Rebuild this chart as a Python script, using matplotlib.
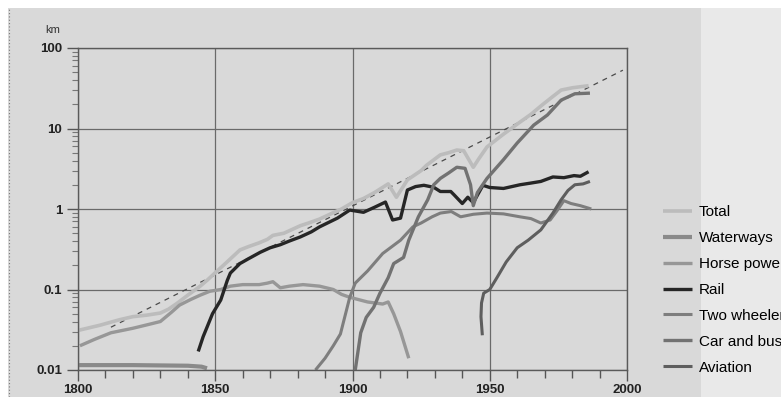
import matplotlib
matplotlib.use('Agg')
import matplotlib.pyplot as plt
from matplotlib.patches import Rectangle
from matplotlib.ticker import FixedLocator, LogLocator, NullFormatter

plt.rcParams['font.family'] = ['Liberation Sans', 'DejaVu Sans']

# passenger-km per capita per day
total_years = [1800, 1808, 1815, 1820, 1825, 1830, 1833, 1836, 1840, 1844.5, 1847, 1850.7,
               1853, 1856.6, 1859, 1862, 1866, 1869, 1871, 1875, 1881, 1884, 1888, 1893,
               1896, 1900, 1904, 1908, 1913, 1916, 1920, 1925, 1927, 1932, 1935, 1938,
               1940.5, 1944, 1946, 1949, 1955, 1961, 1965, 1969, 1973, 1976, 1980, 1983, 1986]
total = [0.031, 0.036, 0.042, 0.046, 0.048, 0.051, 0.057, 0.067, 0.085, 0.11, 0.13, 0.17,
         0.2, 0.26, 0.31, 0.34, 0.38, 0.42, 0.47, 0.5, 0.62, 0.67, 0.75, 0.9,
         1.0, 1.2, 1.35, 1.6, 2.05, 1.4, 2.3, 3.0, 3.5, 4.7, 5.0, 5.4,
         5.3, 3.3, 4.2, 5.9, 8.5, 12, 15, 19.5, 25, 30, 32, 33, 34]

water_years = [1800, 1820, 1840, 1845, 1847]
water = [0.0115, 0.0115, 0.0113, 0.011, 0.0105]

horse_years = [1800.7, 1806, 1812, 1820, 1826, 1830, 1834, 1837, 1841, 1844.5, 1848, 1852,
               1855.5, 1860, 1866, 1869, 1871, 1873.7, 1877, 1882, 1888, 1893, 1896, 1899,
               1905.5, 1911, 1913, 1915, 1917.5, 1920.5]
horse = [0.020, 0.024, 0.029, 0.033, 0.037, 0.040, 0.052, 0.064, 0.075, 0.085, 0.095, 0.1,
         0.11, 0.115, 0.115, 0.12, 0.125, 0.105, 0.11, 0.115, 0.11, 0.1, 0.087, 0.08,
         0.07, 0.066, 0.07, 0.05, 0.03, 0.014]

rail_years = [1843.8, 1845.6, 1847, 1849, 1852, 1854.4, 1855.5, 1859, 1862, 1866.4, 1870,
              1873.7, 1877, 1881, 1885, 1888, 1894.5, 1899, 1904, 1908, 1912, 1914.6,
              1917.5, 1920, 1923, 1926, 1929.6, 1932, 1935.8, 1937, 1940, 1942, 1944,
              1947.5, 1950, 1955, 1961, 1965, 1968.6, 1973, 1977, 1980.7, 1983, 1986]
rail = [0.017, 0.026, 0.034, 0.05, 0.074, 0.13, 0.16, 0.21, 0.24, 0.29, 0.33,
        0.36, 0.4, 0.45, 0.52, 0.6, 0.77, 0.97, 0.91, 1.05, 1.22, 0.73,
        0.77, 1.72, 1.9, 1.97, 1.86, 1.65, 1.65, 1.5, 1.17, 1.4, 1.2,
        1.97, 1.85, 1.8, 2.0, 2.1, 2.2, 2.5, 2.45, 2.6, 2.55, 2.9]

two_years = [1886.5, 1890, 1893, 1895.6, 1899, 1901, 1905.5, 1911, 1917.5, 1922, 1925, 1929,
             1932, 1936, 1939.4, 1944, 1949, 1955, 1961, 1965, 1968.6, 1972, 1974.5, 1977,
             1979.6, 1983, 1987]
two = [0.01, 0.014, 0.02, 0.028, 0.08, 0.12, 0.17, 0.28, 0.41, 0.6, 0.67, 0.8,
       0.89, 0.93, 0.8, 0.86, 0.89, 0.87, 0.8, 0.76, 0.67, 0.73, 0.95, 1.27,
       1.17, 1.1, 1.0]

car_years = [1901, 1903, 1905, 1907.7, 1910, 1913, 1915, 1918.6, 1920.5, 1924, 1927.4, 1929.6,
             1932, 1935, 1938, 1941, 1943, 1944, 1945.5, 1949, 1955, 1960, 1966, 1971,
             1976, 1981, 1986.5]
car = [0.01, 0.029, 0.045, 0.06, 0.09, 0.14, 0.21, 0.25, 0.41, 0.8, 1.3, 2.0,
       2.4, 2.8, 3.3, 3.2, 2.0, 1.1, 1.6, 2.4, 4.1, 6.6, 11, 14.7,
       22.5, 27, 27.5]

air_years = [1947.3, 1946.8, 1947.0, 1947.8, 1950, 1952.6, 1956, 1960, 1964, 1968.6, 1973,
             1976, 1978.5, 1981, 1984, 1986.5]
air = [0.027, 0.046, 0.068, 0.09, 0.1, 0.14, 0.22, 0.33, 0.41, 0.55, 0.89,
       1.3, 1.7, 2.0, 2.05, 2.2]

trend_years = [1812, 1998.5]
trend = [0.034, 53]

labels = ['Total', 'Waterways', 'Horse power', 'Rail', 'Two wheelers', 'Car and bus', 'Aviation']
colors = ['#bcbcbc', '#8a8a8a', '#979797', '#262626', '#7e7e7e', '#727272', '#5e5e5e']

fig = plt.figure(figsize=(7.81, 3.97), dpi=100)
fig.patch.set_facecolor('#e9e9e9')
# scanned page: grey panel, white margins top and left
fig.patches.append(Rectangle((8 / 781, 0), 693 / 781, 1 - 8 / 397, transform=fig.transFigure,
                             facecolor='#d9d9d9', edgecolor='none', zorder=-2))
fig.patches.append(Rectangle((0, 1 - 8 / 397), 1, 8 / 397, transform=fig.transFigure,
                             facecolor='white', edgecolor='none', zorder=-1))
fig.patches.append(Rectangle((0, 0), 8 / 781, 1, transform=fig.transFigure,
                             facecolor='white', edgecolor='none', zorder=-1))
fig.lines.append(plt.Line2D([8.5 / 781, 8.5 / 781], [0, 1 - 8 / 397], transform=fig.transFigure,
                            color='#777777', lw=0.8, ls=(0, (1, 2))))

ax = fig.add_axes([78 / 781, 1 - 370 / 397, 549 / 781, 322 / 397])
ax.set_facecolor('#d9d9d9')

series = [(total_years, total), (water_years, water), (horse_years, horse), (rail_years, rail),
          (two_years, two), (car_years, car), (air_years, air)]
widths = [2.6, 3.0, 2.4, 2.4, 2.2, 2.4, 2.2]
for (xs, ys), lab, c, w in zip(series, labels, colors, widths):
    ax.plot(xs, ys, color=c, lw=w, label=lab, solid_capstyle='butt')
ax.plot(trend_years, trend, color='#4a4a4a', lw=0.9, ls=(0, (4, 4)), zorder=1)

ax.set_yscale('log')
ax.set_xlim(1800, 2000)
ax.set_ylim(0.01, 100)
ax.set_xticks([1800, 1850, 1900, 1950, 2000])
ax.xaxis.set_minor_locator(FixedLocator(range(1800, 2001, 10)))
ax.set_yticks([0.01, 0.1, 1, 10, 100])
ax.set_yticklabels(['0.01', '0.1', '1', '10', '100'])
ax.yaxis.set_minor_locator(LogLocator(base=10, subs=range(2, 10)))
ax.yaxis.set_minor_formatter(NullFormatter())
ax.tick_params(axis='both', which='major', labelsize=9.5, colors='#555555', labelcolor='#222222',
               length=8, width=1)
ax.tick_params(axis='x', which='major', pad=2)
ax.tick_params(axis='x', which='minor', length=6, width=1, colors='#555555')
ax.tick_params(axis='y', which='minor', length=4, width=0.8, colors='#777777')
for lab in ax.get_xticklabels() + ax.get_yticklabels():
    lab.set_fontweight('bold')
ax.grid(True, which='major', color='#6a6a6a', lw=0.9)
for s in ax.spines.values():
    s.set_color('#5a5a5a')
    s.set_linewidth(1)
ax.set_axisbelow(True)

fig.text(45 / 781, 1 - 30 / 397, 'km', fontsize=8, color='#333333', ha='left', va='center')

ax.legend(loc='upper left', bbox_to_anchor=(657 / 781, 1 - 199 / 397),
          bbox_transform=fig.transFigure, frameon=False, fontsize=11,
          handlelength=1.9, handletextpad=0.45, labelspacing=0.78, borderaxespad=0)

fig.savefig('out.png', dpi=100)
